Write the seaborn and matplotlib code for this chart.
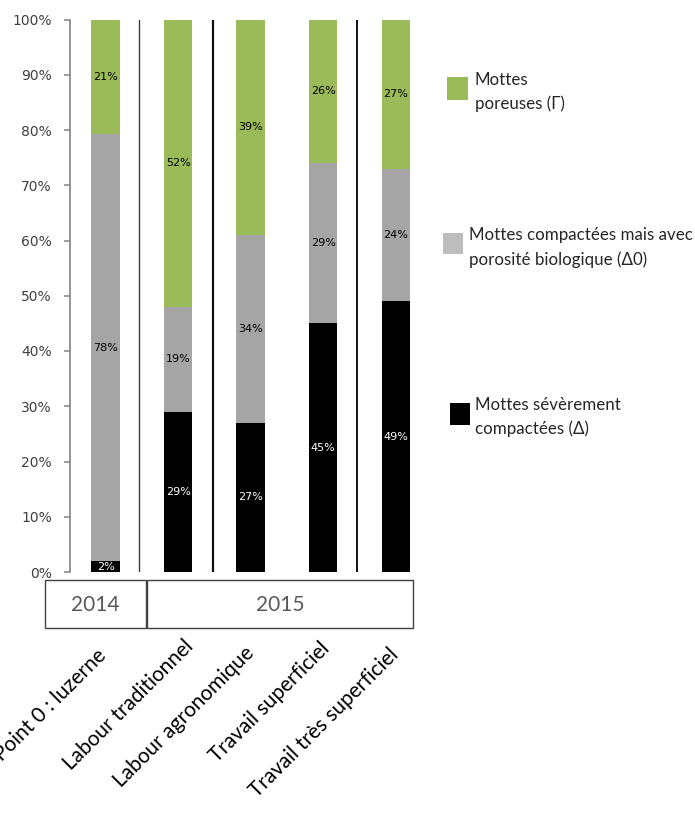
import matplotlib
matplotlib.use("Agg")
import matplotlib.pyplot as plt
import numpy as np
import pandas as pd
import seaborn as sns
from matplotlib.patches import Rectangle
from matplotlib.transforms import offset_copy

# --- data -------------------------------------------------------------
categories = ["Point 0 : luzerne", "Labour traditionnel", "Labour agronomique",
              "Travail superficiel", "Travail très superficiel"]
severe = [2, 29, 27, 45, 49]          # Mottes sévèrement compactées (Δ)
biological = [78, 19, 34, 29, 24]     # Mottes compactées mais avec porosité biologique (Δ0)
porous = [21, 52, 39, 26, 27]         # Mottes poreuses (Γ)
years = ["2014", "2015"]
legend_lines = [["Mottes", "poreuses (Γ)"],
                ["Mottes compactées mais avec", "porosité biologique (Δ0)"],
                ["Mottes sévèrement", "compactées (Δ)"]]
yticks = [0, 10, 20, 30, 40, 50, 60, 70, 80, 90, 100]

GREEN = "#9BBB59"
GREY = "#A5A5A5"
BLACK = "#000000"

sns.set_theme(style="white")
plt.rcParams["font.family"] = ["Lato", "DejaVu Serif"]

W, H = 695, 814
fig = plt.figure(figsize=(W / 100, H / 100), dpi=100)


def fx(px):
    return px / W


def fy(py):
    return 1 - py / H


ax_l, ax_r, ax_t, ax_b = 70, 432, 19.5, 572
ax = fig.add_axes([fx(ax_l), fy(ax_b), fx(ax_r) - fx(ax_l), fy(ax_t) - fy(ax_b)])

# 100 % stacked: normalise each bar by its total
df = pd.DataFrame({"cat": categories, "severe": severe, "bio": biological, "por": porous})
total = df[["severe", "bio", "por"]].sum(axis=1)
df["top_severe"] = df["severe"] / total * 100
df["top_bio"] = (df["severe"] + df["bio"]) / total * 100
df["top_por"] = (df["severe"] + df["bio"] + df["por"]) / total * 100

for col, color in [("top_por", GREEN), ("top_bio", GREY), ("top_severe", BLACK)]:
    sns.barplot(data=df, x="cat", y=col, color=color, saturation=1, width=0.39,
                linewidth=0, ax=ax)

# segment value labels
for i, row in df.iterrows():
    segs = [(0, row["top_severe"], row["severe"], "white"),
            (row["top_severe"], row["top_bio"], row["bio"], "black"),
            (row["top_bio"], row["top_por"], row["por"], "black")]
    for lo, hi, val, tc in segs:
        ax.text(i, (lo + hi) / 2, f"{val}%", ha="center", va="center",
                fontsize=8, color=tc, family="DejaVu Sans")

ax.set_xlim(-0.49, 4.5)
ax.set_ylim(0, 100)

# group separators
ax.axvline(0.46, color="#3a3a3a", lw=1.0, zorder=0)
ax.axvline(1.48, color="#111111", lw=1.6, zorder=0)
ax.axvline(3.46, color="#111111", lw=1.4, zorder=0)

# axes styling
for s in ["top", "right", "bottom"]:
    ax.spines[s].set_visible(False)
ax.spines["left"].set_color("#8c8c8c")
ax.spines["left"].set_linewidth(1.3)
ax.set_yticks(yticks)
ax.set_yticklabels([f"{v}%" for v in yticks], family="DejaVu Sans")
ax.tick_params(axis="y", left=True, length=4, width=1.2, color="#8c8c8c",
               labelsize=10, labelcolor="#404040", pad=9)
ax.set_xlabel("")
ax.set_ylabel("")

# rotated category labels (text end sits just under each bar)
ax.set_xticks(range(len(categories)))
ax.set_xticklabels([])
ax.tick_params(axis="x", bottom=False, length=0)
label_shift = [(-2, 80), (12, 71), (0, 78), (3, 73), (0, 80)]  # pixels right / below axis
for i, (cat, (dx, dy)) in enumerate(zip(categories, label_shift)):
    tr = offset_copy(ax.get_xaxis_transform(), fig=fig, x=dx, y=-dy, units="dots")
    ax.text(i, 0, cat, transform=tr, rotation=45, rotation_mode="anchor",
            ha="right", va="center", fontsize=15, color="#000000", clip_on=False)

# year boxes below the plot
for (x0, x1), yr in zip([(45, 146), (147, 413)], years):
    fig.add_artist(Rectangle((fx(x0), fy(628)), fx(x1) - fx(x0), fy(580) - fy(628),
                             transform=fig.transFigure, fill=False,
                             edgecolor="#404040", lw=1.0))
    fig.text(fx((x0 + x1) / 2), fy(605), yr, ha="center", va="center",
             fontsize=15, color="#595959")

# legend
legend_items = [
    (GREEN, (447, 77, 21, 23), 475, (80, 104)),
    ("#BDBDBD", (443, 233, 20, 21), 469, (235, 260)),
    (BLACK, (450, 403, 20, 22), 475, (405, 429)),
]
for (color, (sx, sy, sw, sh), tx, tys), lines in zip(legend_items, legend_lines):
    fig.add_artist(Rectangle((fx(sx), fy(sy + sh)), sw / W, sh / H,
                             transform=fig.transFigure, facecolor=color,
                             edgecolor="none"))
    for ty, line in zip(tys, lines):
        fig.text(fx(tx), fy(ty), line, ha="left", va="center", fontsize=12.2,
                 color="#262626")

fig.savefig("out.png", dpi=100)
